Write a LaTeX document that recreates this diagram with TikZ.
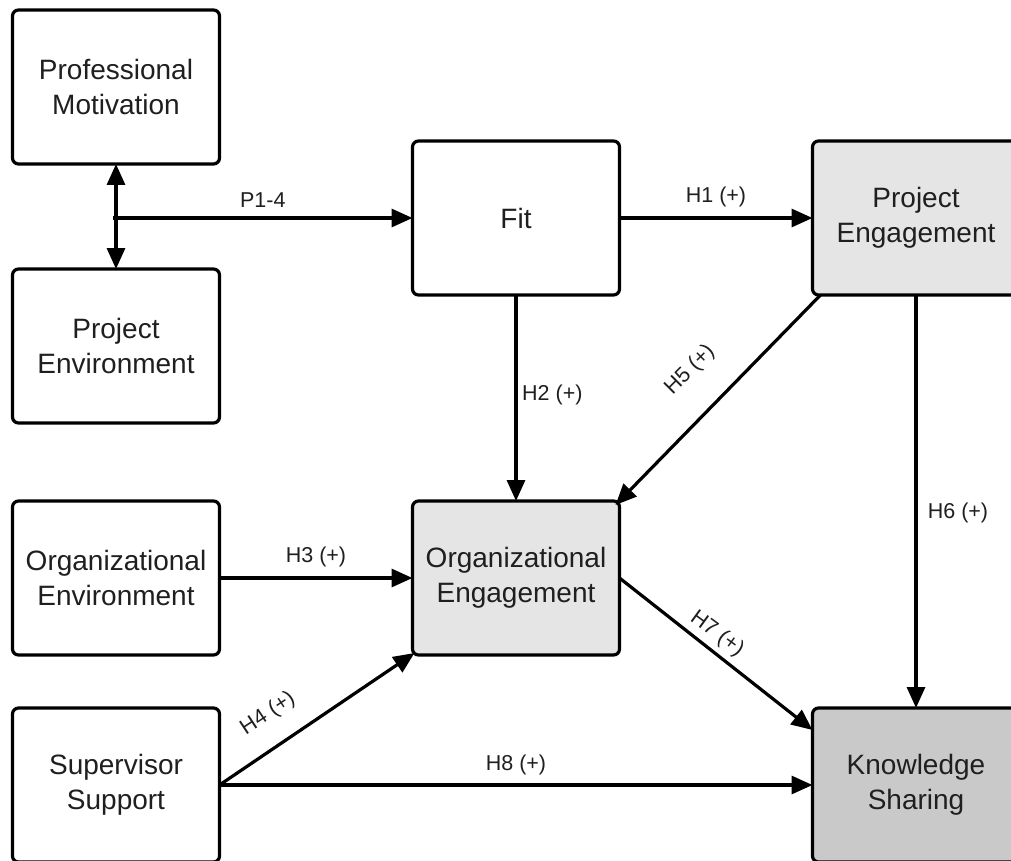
\documentclass[tikz,border=0pt]{standalone}
\usepackage{fontspec}
\setmainfont{Liberation Sans}
\usetikzlibrary{arrows.meta,calc}
\definecolor{lightfill}{gray}{0.90}
\definecolor{darkfill}{gray}{0.79}
\begin{document}
\begin{tikzpicture}[x=1pt,y=-1pt,
 box/.style={draw=black, line width=3.2pt, rounded corners=6pt, minimum width=207pt, minimum height=154pt, inner sep=0pt, outer sep=0pt, align=center, font=\fontsize{28}{35}\selectfont, text=black!88},
 arr/.style={line width=3.2pt, -{Triangle[length=21pt,width=18pt]}},
 darr/.style={line width=3.2pt, {Triangle[length=21pt,width=18pt]}-{Triangle[length=21pt,width=18pt]}},
 lab/.style={font=\fontsize{21.5}{24}\selectfont, text=black!88, inner sep=0pt}]
\useasboundingbox (0,0) rectangle (1011,861);
\fill[white] (0,0) rectangle (1011,861);
% boxes
\node[box] (pm) at (116,87) {Professional\\Motivation};
\node[box] (penv) at (116,346) {Project\\Environment};
\node[box] (fit) at (516,218) {Fit};
\node[box, fill=lightfill] (peng) at (916,218) {Project\\Engagement};
\node[box] (oenv) at (116,578) {Organizational\\Environment};
\node[box, fill=lightfill] (oeng) at (516,578) {Organizational\\Engagement};
\node[box] (ss) at (116,785) {Supervisor\\Support};
\node[box, fill=darkfill] (ks) at (916,785) {Knowledge\\Sharing};
% connectors
\coordinate (j) at (113,218);
\draw[darr] (pm.south) -- (penv.north);
\draw[arr] (j) -- node[lab, above=9pt] {P1-4} (fit.west);
\draw[arr] (fit.east) -- node[lab, above=9pt] {H1 (+)} (peng.west);
\draw[arr] (fit.south) -- (oeng.north);
\node[lab, anchor=west] (l2) at (522,395) {H2 (+)};
\coordinate (h5s) at ($(peng.south west)+(8,0)$);
\coordinate (h5e) at ($(oeng.north east)+(-4,4)$);
\draw[arr] (h5s) -- (h5e);
\node[lab, rotate=45] (l5) at (690,370) {H5 (+)};
\draw[arr] (peng.south) -- (ks.north);
\node[lab] (l6) at (958,513) {H6 (+)};
\draw[arr] (oenv.east) -- node[lab, above=9pt] {H3 (+)} (oeng.west);
\coordinate (h4e) at ($(oeng.south west)+(2,-2)$);
\draw[arr] (ss.east) -- (h4e);
\node[lab, rotate=33.5] (l4) at (268,714) {H4 (+)};
\coordinate (h7e) at ($(ks.north west)+(0,22)$);
\draw[arr] (oeng.east) -- (h7e);
\node[lab, rotate=-36] (l7) at (717,634) {H7 (+)};
\draw[arr] (ss.east) -- node[lab, above=8pt] {H8 (+)} (ks.west);
\end{tikzpicture}
\end{document}
